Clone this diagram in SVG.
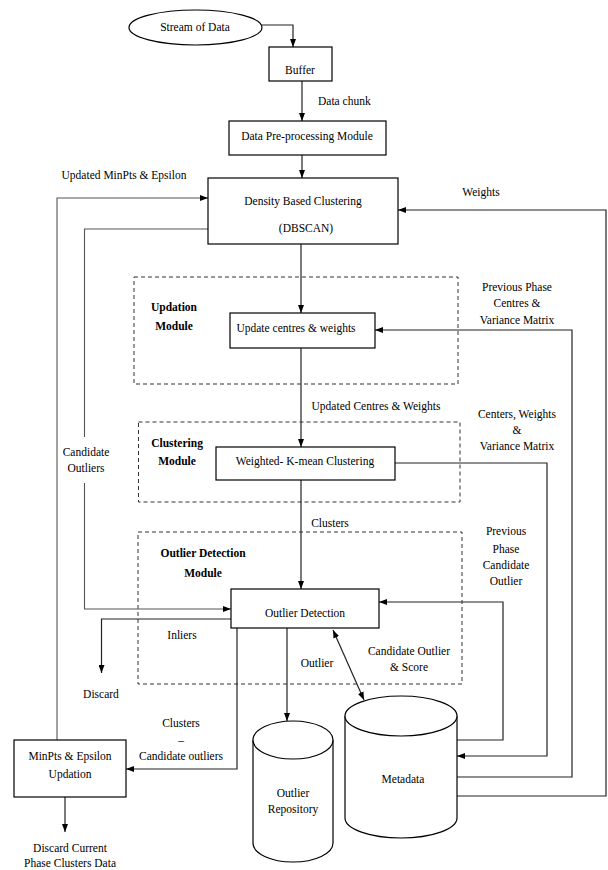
<svg xmlns="http://www.w3.org/2000/svg" width="608" height="870" viewBox="0 0 608 870">
<defs>
<marker id="ah" markerWidth="8" markerHeight="6" refX="8" refY="3" orient="auto-start-reverse" markerUnits="userSpaceOnUse">
<path d="M0,0 L8,3 L0,6 z" fill="#000"/>
</marker>
<style>
text{font-family:"Liberation Serif","Times New Roman",serif;font-size:11.5px;fill:#000;text-anchor:middle}
.b{font-weight:bold}
.st{text-anchor:start}
.box{fill:#fff;stroke:#000;stroke-width:1.2}
.dash{fill:none;stroke:#333;stroke-width:1;stroke-dasharray:4 3}
.c{fill:none;stroke:#222;stroke-width:1.2}
.cg{fill:none;stroke:#555;stroke-width:1.1}
</style>
</defs>
<rect width="608" height="870" fill="#fff"/>

<g id="modules">
<rect class="dash" x="134" y="277" width="324" height="107"/>
<rect class="dash" x="138.5" y="422" width="321.5" height="80"/>
<rect class="dash" x="138" y="532" width="324" height="152"/>
<text class="b" x="174" y="311">Updation</text>
<text class="b" x="174" y="330">Module</text>
<text class="b" x="177" y="447">Clustering</text>
<text class="b" x="177" y="465">Module</text>
<text class="b" x="203" y="557">Outlier Detection</text>
<text class="b" x="203" y="577">Module</text>
</g>

<g id="connectors">
<path class="c" d="M262,25 H293 V47" marker-end="url(#ah)"/>
<path class="c" d="M302,81 V121" marker-end="url(#ah)"/>
<path class="c" d="M302,155 V178" marker-end="url(#ah)"/>
<path class="cg" d="M57,740 V198 H208" marker-end="url(#ah)"/>
<path class="cg" d="M208,229 H84.5 V437 M84.5,483 V609 H231" marker-end="url(#ah)"/>
<path class="c" d="M457,796 H606 V210 H398" marker-end="url(#ah)"/>
<path class="c" d="M301,244 V313" marker-end="url(#ah)"/>
<path class="c" d="M457,777 H572 V330 H375" marker-end="url(#ah)"/>
<path class="c" d="M301,348 V447" marker-end="url(#ah)"/>
<path class="c" d="M395,463 H547 V756 H457" marker-end="url(#ah)"/>
<path class="c" d="M301,480 V589" marker-end="url(#ah)"/>
<path class="c" d="M457,740 H503 V602 H379" marker-end="url(#ah)"/>
<path class="c" d="M231,619 H101.5 V673" marker-end="url(#ah)"/>
<path class="c" d="M237,628 V769 H126" marker-end="url(#ah)"/>
<path class="c" d="M287,628 V721" marker-end="url(#ah)"/>
<path class="c" d="M333,630 L364,700" marker-start="url(#ah)" marker-end="url(#ah)"/>
<path class="c" d="M65,797 V832" marker-end="url(#ah)"/>
<text class="st" x="318" y="105">Data chunk</text>
<text x="124" y="179">Updated MinPts &amp; Epsilon</text>
<text x="481" y="196">Weights</text>
<text x="517" y="291">Previous Phase</text>
<text x="517" y="307">Centres &amp;</text>
<text x="517" y="324">Variance Matrix</text>
<text x="376" y="410">Updated Centres &amp; Weights</text>
<text x="517" y="418">Centers, Weights</text>
<text x="517" y="434">&amp;</text>
<text x="517" y="450">Variance Matrix</text>
<text x="86" y="456">Candidate</text>
<text x="86" y="472">Outliers</text>
<text x="330" y="527">Clusters</text>
<text x="506" y="535">Previous</text>
<text x="506" y="553">Phase</text>
<text x="506" y="569">Candidate</text>
<text x="506" y="585">Outlier</text>
<text x="182" y="639">Inliers</text>
<text x="317" y="667">Outlier</text>
<text x="409" y="655">Candidate Outlier</text>
<text x="409" y="671">&amp; Score</text>
<text x="101" y="698">Discard</text>
<text x="181" y="727">Clusters</text>
<text x="181" y="744">–</text>
<text x="181" y="760">Candidate outliers</text>
<text x="70" y="852">Discard Current</text>
<text x="70" y="867">Phase Clusters Data</text>
</g>

<g id="stream">
<ellipse class="box" cx="195.5" cy="27.5" rx="66.5" ry="17.5"/>
<text x="195" y="31">Stream of Data</text>
</g>
<g id="buffer">
<rect class="box" x="269" y="47" width="63" height="34"/>
<text x="300" y="74">Buffer</text>
</g>
<g id="preprocessing">
<rect class="box" x="229" y="121" width="157" height="34"/>
<text x="307" y="140">Data Pre-processing Module</text>
</g>
<g id="dbscan">
<rect class="box" x="208" y="178" width="190" height="66"/>
<text x="303" y="205">Density Based Clustering</text>
<text x="306" y="232">(DBSCAN)</text>
</g>
<g id="update">
<rect class="box" x="230" y="313" width="145" height="35"/>
<text x="296" y="332">Update centres &amp; weights</text>
</g>
<g id="kmean">
<rect class="box" x="216" y="447" width="179" height="33"/>
<text x="305" y="465">Weighted- K-mean Clustering</text>
</g>
<g id="outlierdetection">
<rect class="box" x="231" y="589" width="148" height="39"/>
<text x="305" y="617">Outlier Detection</text>
</g>
<g id="minpts">
<rect class="box" x="14" y="740" width="112" height="57"/>
<text x="70" y="760">MinPts &amp; Epsilon</text>
<text x="70" y="778">Updation</text>
</g>
<g id="repository">
<path class="box" d="M253,740 V843 A40,19 0 0 0 333,843 V740"/>
<ellipse class="box" cx="293" cy="740" rx="40" ry="19"/>
<text x="293" y="797">Outlier</text>
<text x="293" y="813">Repository</text>
</g>
<g id="metadata">
<path class="box" d="M345,716 V818 A56,20 0 0 0 457,818 V716"/>
<ellipse class="box" cx="401" cy="716" rx="56" ry="20"/>
<text x="403" y="783">Metadata</text>
</g>
</svg>
